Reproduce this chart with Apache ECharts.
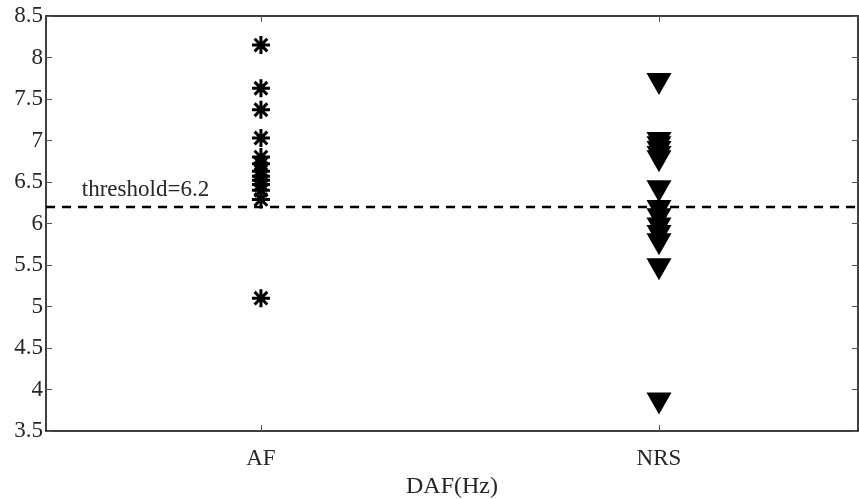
<!DOCTYPE html>
<html>
<head>
<meta charset="utf-8">
<script src="https://cdn.jsdelivr.net/npm/echarts@6/dist/echarts.min.js"></script>
<style>
  html, body { margin: 0; padding: 0; background: #fff; }
  #chart { width: 859px; height: 499px; }
</style>
</head>
<body>
<div id="chart"></div>
<script>
// categories on the x axis (placed at 1 and 2)
const categories = ['AF', 'NRS']
const afValues = [8.15, 7.63, 7.37, 7.03, 6.8, 6.72, 6.63, 6.57, 6.52, 6.47, 6.4, 6.29, 5.1]
const nrsValues = [7.68, 6.97, 6.92, 6.86, 6.8, 6.75, 6.39, 6.15, 6.05, 5.94, 5.85, 5.75, 5.45, 3.83]
const threshold = 6.2
const yTicks = [3.5, 4, 4.5, 5, 5.5, 6, 6.5, 7, 7.5, 8, 8.5]

const font = 'Liberation Serif'
const ink = '#262626'

const chart = echarts.init(document.getElementById('chart'))

// MATLAB-like asterisk
const asterisk = 'path://M0,-10L0,10M-10,0L10,0M-7.07,-7.07L7.07,7.07M-7.07,7.07L7.07,-7.07'

const xBase = {
  type: 'value',
  min: 0.46,
  max: 2.5,
  axisLine: { show: true, onZero: false, lineStyle: { color: '#000', width: 1.5 } },
  axisTick: { show: true, inside: true, length: 6, customValues: [1, 2], lineStyle: { color: '#555' } },
  splitLine: { show: false }
}
const yBase = {
  type: 'value',
  min: yTicks[0],
  max: yTicks[yTicks.length - 1],
  interval: 0.5,
  axisLine: { show: true, onZero: false, lineStyle: { color: '#000', width: 1.5 } },
  axisTick: { show: true, inside: true, length: 6, lineStyle: { color: '#555' } },
  splitLine: { show: false }
}

chart.setOption({
  animation: false,
  grid: { left: 46, right: 1, top: 16, bottom: 68, containLabel: false, outerBoundsMode: 'none' },
  xAxis: [
    Object.assign({}, xBase, {
      position: 'bottom',
      name: 'DAF(Hz)',
      nameLocation: 'middle',
      nameGap: 40,
      nameTextStyle: { fontFamily: font, fontSize: 24, color: ink },
      axisLabel: {
        customValues: [1, 2],
        margin: 16,
        fontFamily: font,
        fontSize: 23,
        color: ink,
        formatter: v => categories[Math.round(v) - 1] || ''
      }
    }),
    Object.assign({}, xBase, { position: 'top', axisLabel: { show: false } })
  ],
  yAxis: [
    Object.assign({}, yBase, {
      position: 'left',
      axisLabel: { margin: 3, fontFamily: font, fontSize: 23, color: ink }
    }),
    Object.assign({}, yBase, { position: 'right', axisLabel: { show: false } })
  ],
  series: [
    {
      type: 'scatter',
      data: afValues.map(v => [1, v]),
      symbol: asterisk,
      symbolSize: 18,
      symbolKeepAspect: true,
      itemStyle: { color: 'none', borderColor: '#000', borderWidth: 3, opacity: 1 },
      z: 3
    },
    {
      type: 'scatter',
      data: nrsValues.map(v => [2, v]),
      symbol: 'triangle',
      symbolRotate: 180,
      symbolSize: [25, 22],
      itemStyle: { color: '#000', opacity: 1 },
      z: 3
    },
    {
      type: 'line',
      data: [[0.46, threshold], [2.5, threshold]],
      symbol: 'none',
      lineStyle: { color: '#000', width: 2.5, type: [9, 7] },
      z: 2
    }
  ]
})

const p = chart.convertToPixel({ xAxisIndex: 0, yAxisIndex: 0 }, [0.55, threshold])
chart.setOption({
  graphic: [{
    type: 'text',
    x: p[0],
    y: p[1] - 5,
    style: {
      text: 'threshold=' + threshold,
      fontFamily: font,
      fontSize: 23,
      fill: ink,
      textVerticalAlign: 'bottom'
    }
  }]
})
</script>
</body>
</html>
